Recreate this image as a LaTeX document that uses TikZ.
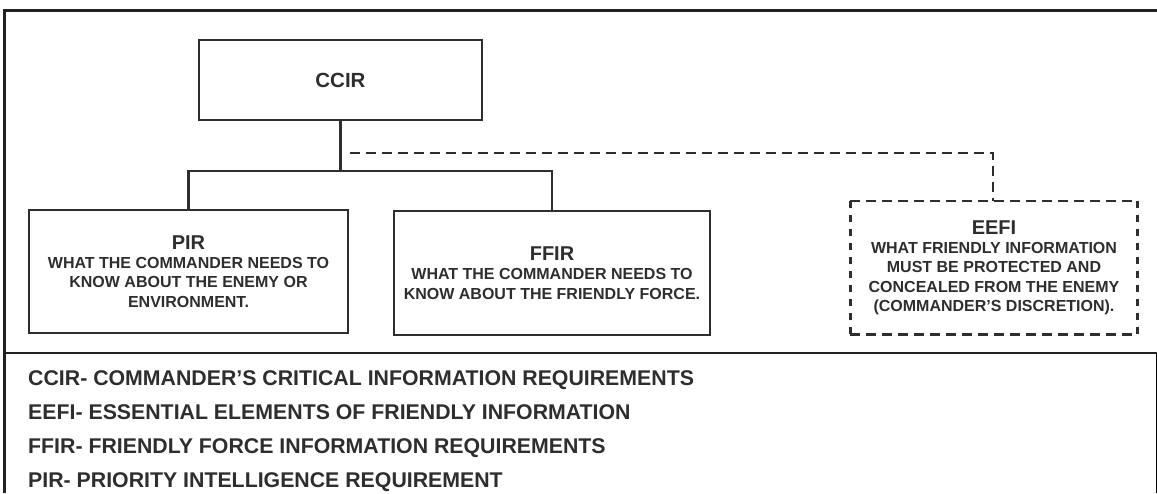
\documentclass[tikz,border=0pt]{standalone}
\usepackage{fontspec}
\setmainfont{Liberation Sans}
\definecolor{ink}{HTML}{2E2E2E}
\definecolor{frame}{HTML}{222222}
\definecolor{thin}{HTML}{9A9A9A}
\tikzset{
  box/.style={draw=ink, line width=2.6pt, inner sep=0pt, align=center, text=ink,
    font=\bfseries\fontsize{16}{19.3}\selectfont},
  tbox/.style={box, draw=none},
  conn/.style={draw=ink, line width=2.4pt},
  dconn/.style={conn, dash pattern=on 10pt off 6pt},
  vdconn/.style={conn, dash pattern=on 7pt off 7pt},
  legend/.style={anchor=base west, inner sep=0pt, text=ink, font=\bfseries\fontsize{21.3}{24}\selectfont},
}
\newcommand{\ttl}[1]{{\fontsize{20}{22}\selectfont #1}}
\begin{document}
\begin{tikzpicture}[x=1pt, y=-1pt]
\useasboundingbox (0,0) rectangle (1157,493);
% outer frame
\draw[frame, line width=3pt] (4,493) -- (4,10) -- (1157,10);
\draw[frame, line width=2pt] (4,353) -- (1157,353);
\draw[thin, line width=1pt] (1156,353) -- (1156,493);

% boxes
\node[box, minimum width=283pt, minimum height=80pt, font=\bfseries\fontsize{20.5}{24}\selectfont] (ccir) at (340.5,80) {CCIR};
\node[box, minimum width=319pt, minimum height=123pt] (pir) at (188.5,271.5)
  {\ttl{PIR}\\WHAT THE COMMANDER NEEDS TO\\KNOW ABOUT THE ENEMY OR\\ENVIRONMENT.};
\node[box, minimum width=316pt, minimum height=124pt] (ffir) at (552,273)
  {\ttl{FFIR}\\WHAT THE COMMANDER NEEDS TO\\KNOW ABOUT THE FRIENDLY FORCE.};
\node[tbox, minimum width=284.5pt, minimum height=131pt] (eefi) at (994,267.5)
  {\ttl{EEFI}\\WHAT FRIENDLY INFORMATION\\MUST BE PROTECTED AND\\CONCEALED FROM THE ENEMY\\(COMMANDER'S DISCRETION).};
% dashed outline of EEFI
\draw[dconn] (eefi.north west) -- (eefi.north east);
\draw[dconn] (eefi.south west) -- (eefi.south east);
\draw[vdconn] (eefi.north west) -- (eefi.south west);
\draw[vdconn] (eefi.north east) -- (eefi.south east);

% connectors
\coordinate (jn) at (ccir.south |- 0,171);
\coordinate (dj) at (ccir.south |- 0,153);
\draw[conn] (ccir.south) -- (jn);
\draw[conn] (pir.north) |- (jn) -| (ffir.north);
\draw[dconn] ([xshift=9pt]dj) -| ([xshift=-1pt]eefi.north);

% legend
\node[legend] (l1) at (28,385) {CCIR- COMMANDER'S CRITICAL INFORMATION REQUIREMENTS};
\node[legend] (l2) at (28,419.3) {EEFI- ESSENTIAL ELEMENTS OF FRIENDLY INFORMATION};
\node[legend] (l3) at (28,453.6) {FFIR- FRIENDLY FORCE INFORMATION REQUIREMENTS};
\node[legend] (l4) at (28,487.9) {PIR- PRIORITY INTELLIGENCE REQUIREMENT};
\end{tikzpicture}
\end{document}
